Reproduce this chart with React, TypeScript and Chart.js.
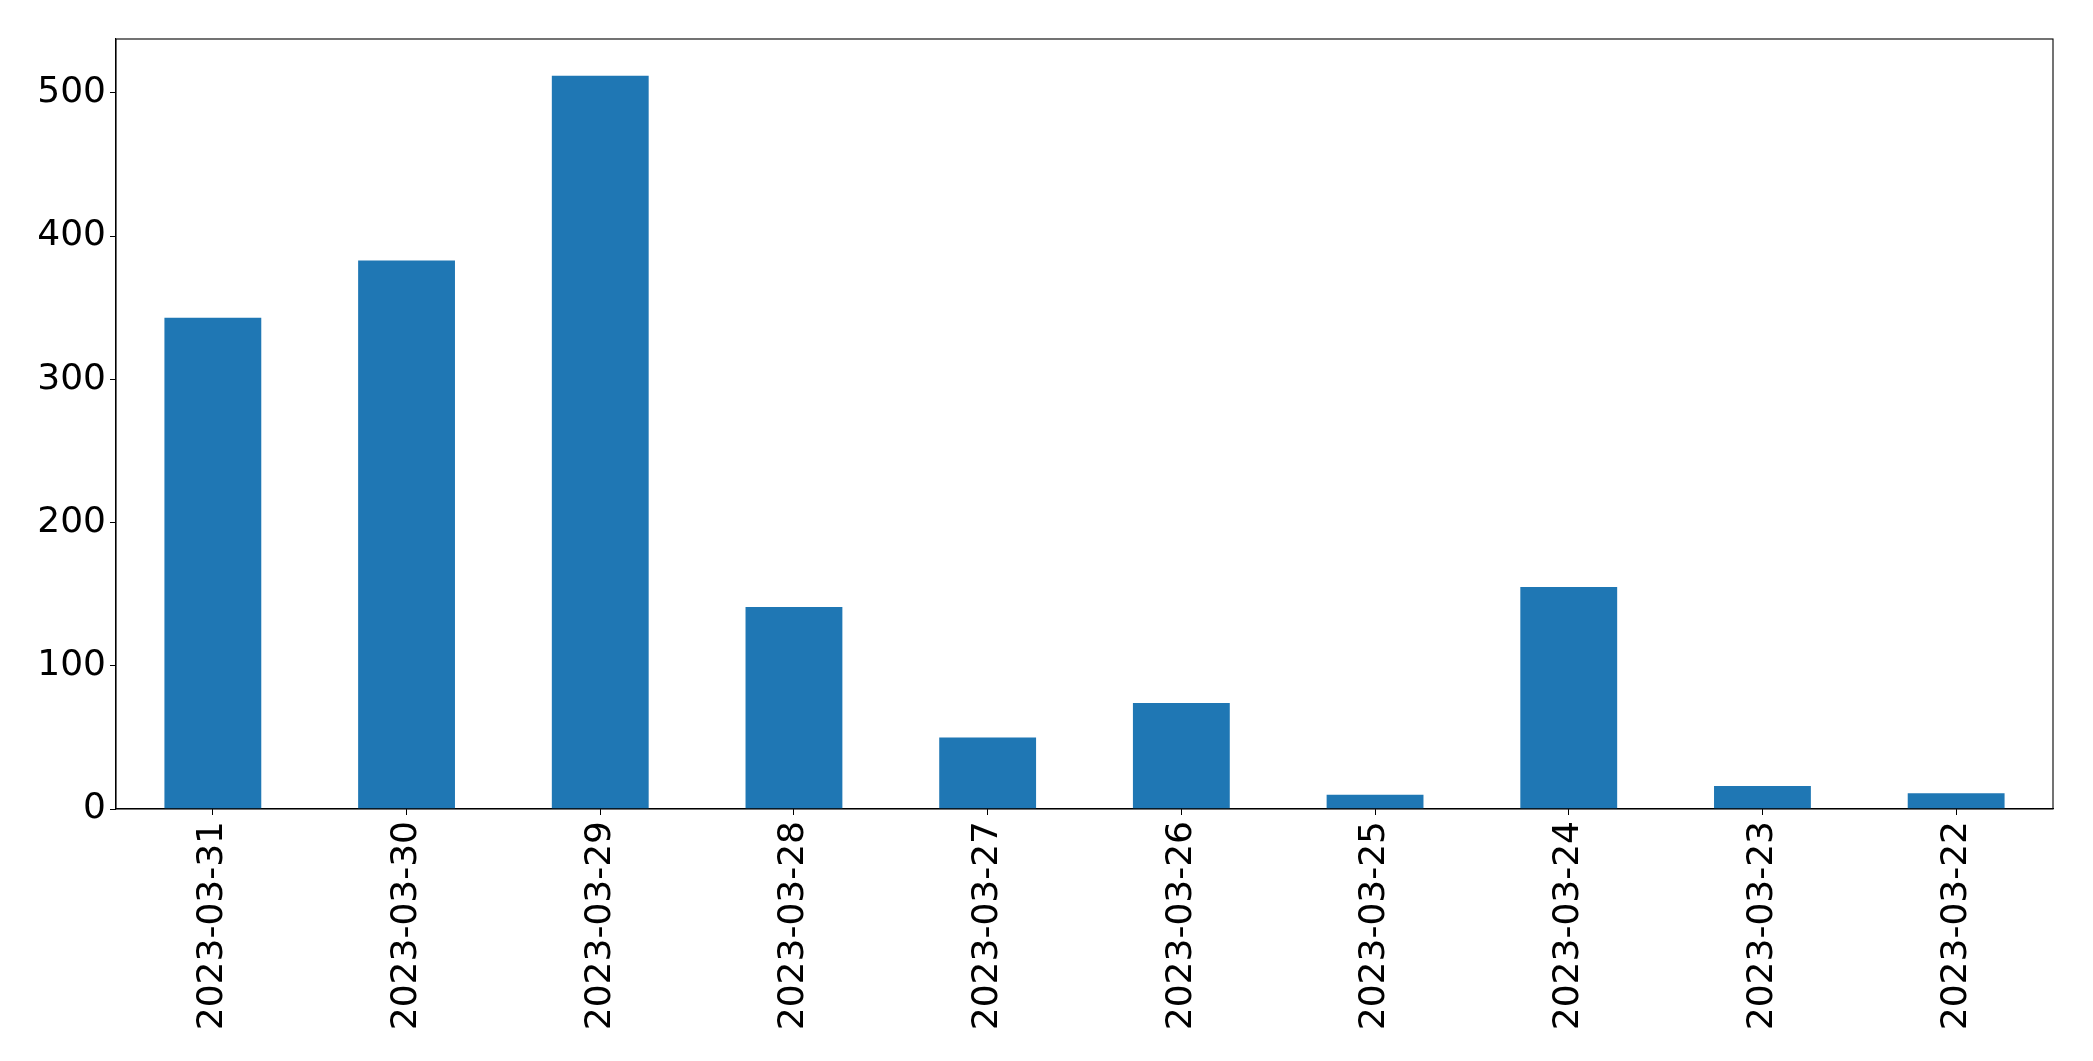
import React, { useEffect, useRef } from "react";
import { Chart, registerables } from "chart.js";

Chart.register(...registerables);

const categories: string[] = [
  "2023-03-31", "2023-03-30", "2023-03-29", "2023-03-28", "2023-03-27",
  "2023-03-26", "2023-03-25", "2023-03-24", "2023-03-23", "2023-03-22",
];
const counts: number[] = [343, 383, 512, 141, 50, 74, 10, 155, 16, 11];
const yTicks: number[] = [0, 100, 200, 300, 400, 500];

const W = 2093;
const H = 1061;

const framePlugin = {
  id: "frame",
  afterDraw(chart: any) {
    const { ctx, chartArea } = chart;
    ctx.save();
    ctx.strokeStyle = "#000";
    ctx.lineWidth = 1.1;
    ctx.strokeRect(chartArea.left, chartArea.top, chartArea.right - chartArea.left, chartArea.bottom - chartArea.top);
    ctx.restore();
  },
};

export default function App() {
  const ref = useRef<HTMLCanvasElement | null>(null);
  useEffect(() => {
    if (!ref.current) return;
    const maxV = Math.max(...counts) * 1.05;
    const font = { family: "'DejaVu Sans', sans-serif", size: 36 };
    const chart = new Chart(ref.current, {
      type: "bar",
      data: {
        labels: categories,
        datasets: [
          {
            data: counts,
            backgroundColor: "#1f77b4",
            borderWidth: 0,
            barPercentage: 0.5,
            categoryPercentage: 1,
          },
        ],
      },
      options: {
        responsive: false,
        animation: false,
        devicePixelRatio: 1,
        layout: { padding: { top: 39, right: 40, left: 0, bottom: 0 } },
        plugins: { legend: { display: false }, tooltip: { enabled: false } },
        scales: {
          x: {
            type: "category",
            offset: true,
            grid: { display: true, drawOnChartArea: false, tickLength: 6, tickColor: "#000", offset: false },
            border: { display: true, color: "#000", width: 1.1 },
            ticks: { color: "#000", font, minRotation: 90, maxRotation: 90, padding: 6, autoSkip: false },
            afterFit(scale: any) { scale.height = H - 809; },
          },
          y: {
            type: "linear",
            min: 0,
            max: maxV,
            grid: { display: true, drawOnChartArea: false, tickLength: 6, tickColor: "#000" },
            border: { display: true, color: "#000", width: 1.1 },
            ticks: {
              color: "#000",
              font,
              stepSize: 100,
              includeBounds: false,
              padding: 4,
              callback: (v: any) => (yTicks.includes(Number(v)) ? String(v) : null),
            },
            afterFit(scale: any) { scale.width = 116; },
          },
        },
      },
      plugins: [framePlugin],
    });
    return () => chart.destroy();
  }, []);
  return (
    <div style={{ position: "fixed", left: 0, top: 0, width: W, height: H, background: "#fff" }}>
      <canvas ref={ref} width={W} height={H} style={{ display: "block", width: W, height: H }} />
    </div>
  );
}
